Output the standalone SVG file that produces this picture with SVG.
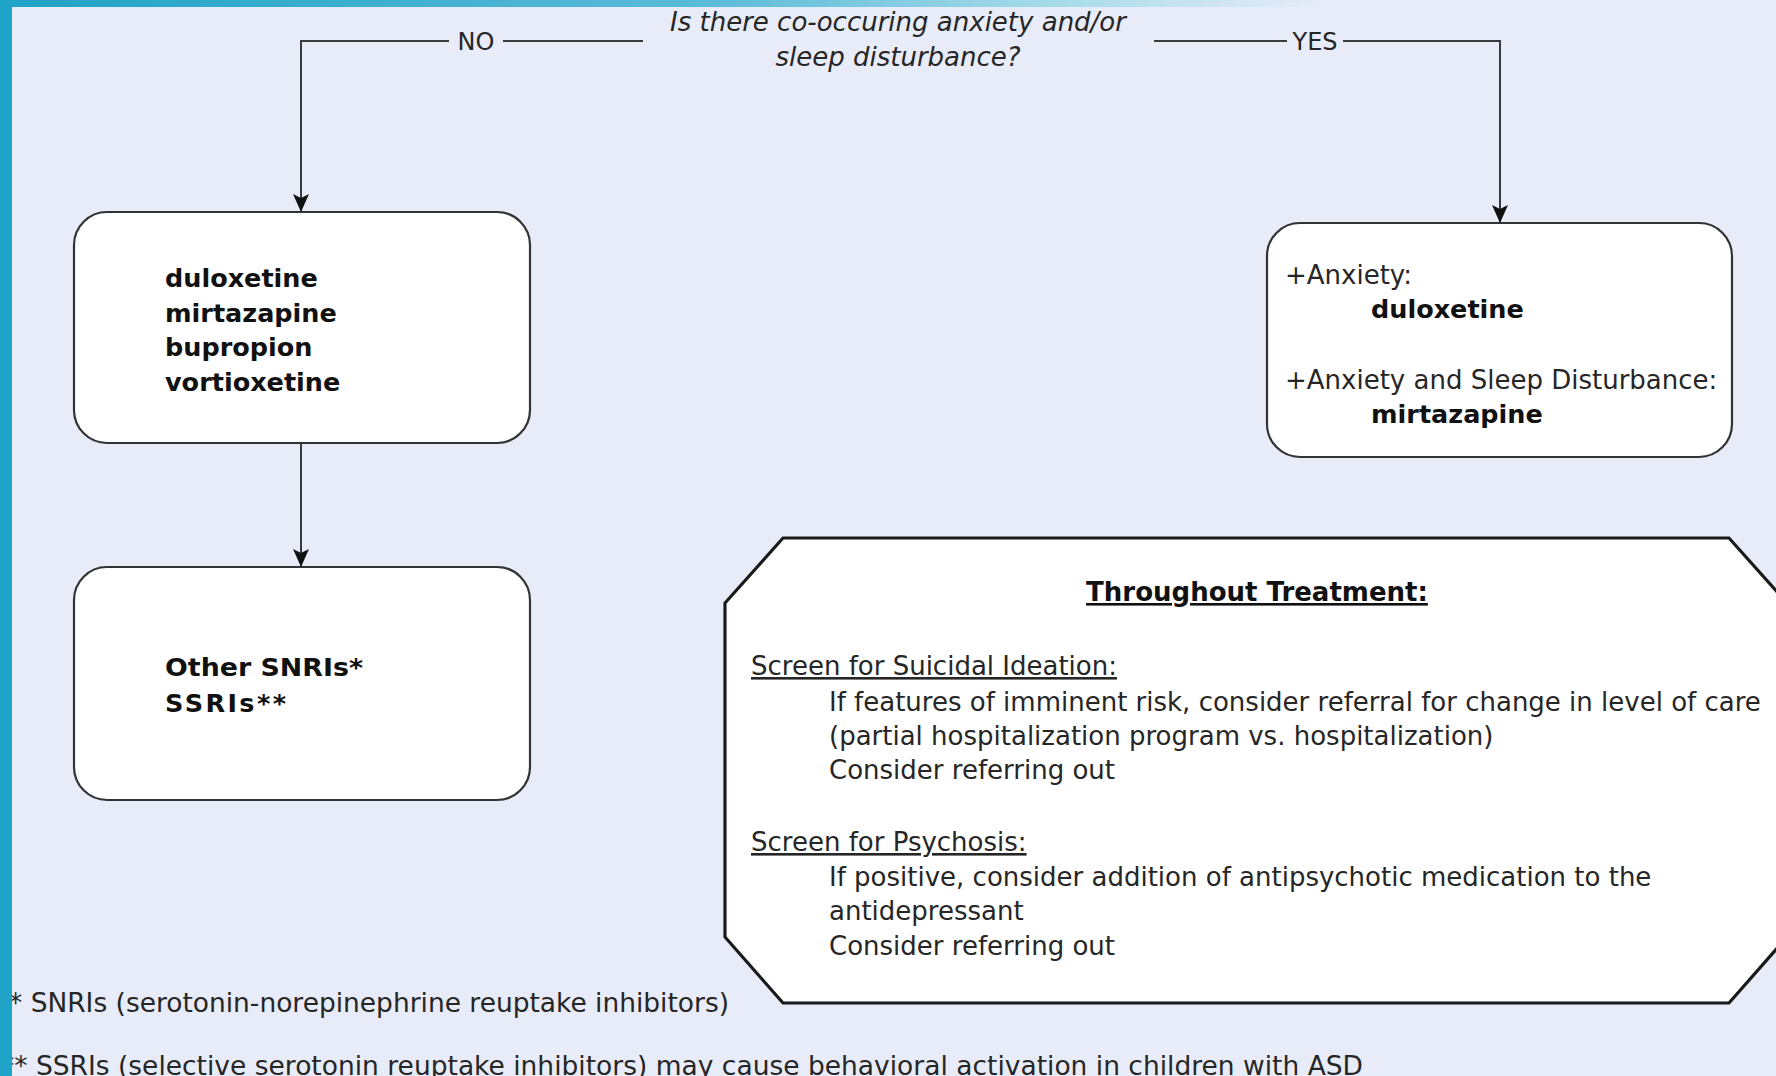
<svg xmlns="http://www.w3.org/2000/svg" width="1776" height="1076" viewBox="0 0 1776 1076">
  <defs>
    <linearGradient id="topband" x1="0" y1="0" x2="1" y2="0">
      <stop offset="0" stop-color="#1fa3c6"/>
      <stop offset="0.4" stop-color="#5bbbd8"/>
      <stop offset="0.6" stop-color="#a9dcea"/>
      <stop offset="0.75" stop-color="#e8ecf8"/>
      <stop offset="1" stop-color="#e8ecf8"/>
    </linearGradient>
    <marker id="arr" viewBox="0 0 18 16" markerWidth="18" markerHeight="16" refX="18" refY="8" orient="auto" markerUnits="userSpaceOnUse">
      <path d="M0,0 L18,8 L0,16 L4,8 Z" fill="#111"/>
    </marker>
    <style>
      .box { fill: #ffffff; stroke: #333333; stroke-width: 2.2; }
      .oct { fill: #ffffff; stroke: #1a1a1a; stroke-width: 3.2; }
      .conn { fill: none; stroke: #3a3a3a; stroke-width: 2; }
      .reg { font-family: "DejaVu Sans", Verdana, sans-serif; font-size: 26px; fill: #262626; }
      .bold { font-family: "DejaVu Sans", Verdana, sans-serif; font-size: 25.5px; font-weight: bold; fill: #111111; }
      .ital { font-family: "DejaVu Sans", Verdana, sans-serif; font-size: 26px; font-style: italic; fill: #262626; }
      .lbl { font-family: "DejaVu Sans", Verdana, sans-serif; font-size: 24px; fill: #262626; }
      .ul { text-decoration: underline; }
    </style>
  </defs>

  <rect x="0" y="0" width="1776" height="1076" fill="#e8ecf8"/>

  <g id="connectors">
    <path class="conn" d="M643,41 H503 M449,41 H301 V212" marker-end="url(#arr)"/>
    <path class="conn" d="M1154,41 H1287 M1343,41 H1500 V223" marker-end="url(#arr)"/>
    <path class="conn" d="M301,443 V567" marker-end="url(#arr)"/>
    <text class="lbl" x="476" y="50" text-anchor="middle">NO</text>
    <text class="lbl" x="1315" y="50" text-anchor="middle">YES</text>
  </g>

  <g id="question">
    <text class="ital" x="898" y="31" text-anchor="middle">Is there co-occuring anxiety and/or</text>
    <text class="ital" x="898" y="66" text-anchor="middle">sleep disturbance?</text>
  </g>

  <g id="node-first-line">
    <rect class="box" x="74" y="212" width="456" height="231" rx="33" ry="33"/>
    <text class="bold" x="165" y="287">duloxetine</text>
    <text class="bold" x="165" y="322">mirtazapine</text>
    <text class="bold" x="165" y="356">bupropion</text>
    <text class="bold" x="165" y="391">vortioxetine</text>
  </g>

  <g id="node-second-line">
    <rect class="box" x="74" y="567" width="456" height="233" rx="33" ry="33"/>
    <text class="bold" x="165" y="676" textLength="198" lengthAdjust="spacingAndGlyphs">Other SNRIs*</text>
    <text class="bold" x="165" y="712" textLength="121" lengthAdjust="spacing">SSRIs**</text>
  </g>

  <g id="node-anxiety">
    <rect class="box" x="1267" y="223" width="465" height="234" rx="33" ry="33"/>
    <text class="reg" x="1285" y="284">+Anxiety:</text>
    <text class="bold" x="1371" y="318">duloxetine</text>
    <text class="reg" x="1285" y="389">+Anxiety and Sleep Disturbance:</text>
    <text class="bold" x="1371" y="423">mirtazapine</text>
  </g>

  <g id="node-throughout">
    <polygon class="oct" points="783,538 1729,538 1787,603 1787,937 1729,1003 783,1003 725,937 725,603"/>
    <text class="bold ul" x="1257" y="601" text-anchor="middle" style="font-size:26px">Throughout Treatment:</text>
    <text class="reg ul" x="751" y="675">Screen for Suicidal Ideation:</text>
    <text class="reg" x="829" y="711">If features of imminent risk, consider referral for change in level of care</text>
    <text class="reg" x="829" y="745">(partial hospitalization program vs. hospitalization)</text>
    <text class="reg" x="829" y="779">Consider referring out</text>
    <text class="reg ul" x="751" y="851">Screen for Psychosis:</text>
    <text class="reg" x="829" y="886">If positive, consider addition of antipsychotic medication to the</text>
    <text class="reg" x="829" y="920">antidepressant</text>
    <text class="reg" x="829" y="955">Consider referring out</text>
  </g>

  <g id="footnotes">
    <text class="reg" x="9" y="1012" textLength="720" lengthAdjust="spacingAndGlyphs">* SNRIs (serotonin-norepinephrine reuptake inhibitors)</text>
    <text class="reg" x="1" y="1075" textLength="1362" lengthAdjust="spacingAndGlyphs">** SSRIs (selective serotonin reuptake inhibitors) may cause behavioral activation in children with ASD</text>
  </g>

  <rect x="0" y="0" width="1776" height="7" fill="url(#topband)"/>
  <rect x="0" y="0" width="12" height="1076" fill="#1fa3c6"/>
</svg>
